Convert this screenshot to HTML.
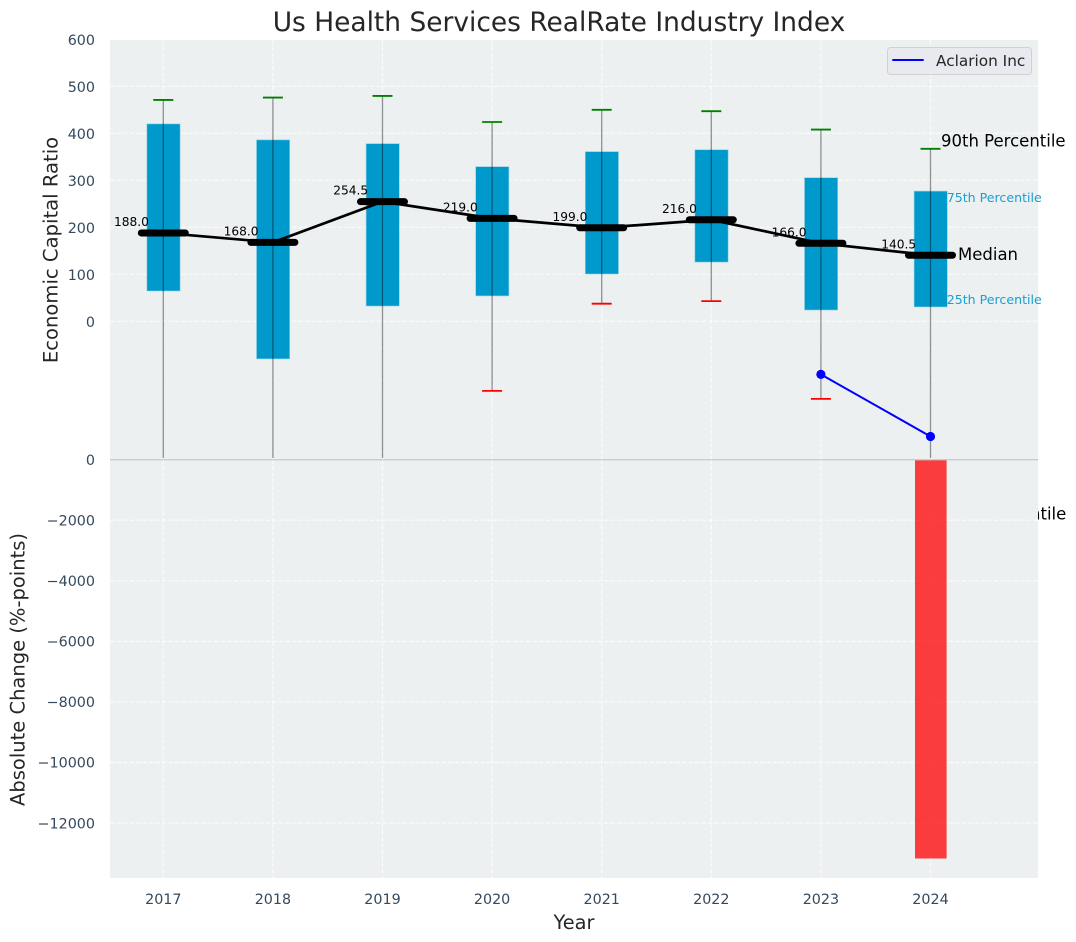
<!DOCTYPE html>
<html lang="en">
<head>
<meta charset="utf-8">
<title>Us Health Services RealRate Industry Index</title>
<style>
html,body{margin:0;padding:0;background:#fff}
svg{display:block;font-family:"DejaVu Sans","Liberation Sans",sans-serif}
</style>
</head>
<body>
<svg id="chart" xmlns="http://www.w3.org/2000/svg" width="1076" height="942" viewBox="0 0 1076 942">
  <defs>
    <clipPath id="top-clip"><rect x="110" y="40" width="928" height="419.5"/></clipPath>
    <clipPath id="bottom-clip"><rect x="110" y="459.5" width="928" height="418.5"/></clipPath>
  </defs>
  <text x="559" y="31" font-size="26.45" fill="#262626" text-anchor="middle">Us Health Services RealRate Industry Index</text>
  <rect x="110" y="40" width="928" height="419.5" fill="#ecf0f1"/>
  <g id="top-grid"></g>
  <g id="top-marks" clip-path="url(#top-clip)"></g>
  <g id="top-notes"></g>
  <rect x="110" y="459.5" width="928" height="418.5" fill="#ecf0f1"/>
  <g id="bottom-grid"></g>
  <g id="bottom-marks" clip-path="url(#bottom-clip)"></g>
  <line x1="110" x2="1038" y1="459.7" y2="459.7" stroke="#cbcbcb" stroke-width="1.4"/>
  <g id="tick-labels"></g>
  <text transform="translate(51 250) rotate(-90)" font-size="19.6" fill="#262626" text-anchor="middle" dominant-baseline="central">Economic Capital Ratio</text>
  <text transform="translate(18 669.5) rotate(-90)" font-size="19.5" fill="#262626" text-anchor="middle" dominant-baseline="central">Absolute Change (%-points)</text>
  <text x="574" y="929" font-size="19.4" fill="#262626" text-anchor="middle">Year</text>
  <g>
    <rect x="887.5" y="47.5" width="144" height="27" rx="3" fill="#e8eaf0" stroke="#cfd1d4" stroke-width="1"/>
    <line x1="892.3" x2="923.7" y1="60" y2="60" stroke="#0000ff" stroke-width="2"/>
    <text x="936" y="61" font-size="15.3" fill="#262626" dominant-baseline="central">Aclarion Inc</text>
  </g>
</svg>
<script>
const years = [2017, 2018, 2019, 2020, 2021, 2022, 2023, 2024];
const p90 = [471, 476, 479.5, 424, 450, 447, 408, 367];
const p75 = [420, 386, 378, 329, 361, 365, 305.5, 277];
const median = [188, 168, 254.5, 219, 199, 216, 166, 140.5];
const p25 = [64.5, -80, 32.5, 54, 100.6, 126, 24, 30.5];
const p10 = [-520, -640, -480, -148, 37.5, 43, -165, -409];
const companyYears = [2023, 2024];
const companyValues = [-113, -245];
const changeYears = [2024];
const changeValues = [-13170];
const topTicks = [0, 100, 200, 300, 400, 500, 600];
const bottomTicks = [0, -2000, -4000, -6000, -8000, -10000, -12000];

const NS = 'http://www.w3.org/2000/svg';
const xPos = year => 163.3 + (year - 2017) * 109.6;
const yTop = value => 321.3 - value * 0.47;
const yBottom = value => 459.7 - value * 0.03028;

function make(tag, parent, attrs, content) {
  const node = document.createElementNS(NS, tag);
  Object.keys(attrs).forEach(key => node.setAttribute(key, attrs[key]));
  if (content !== undefined) node.textContent = content;
  parent.appendChild(node);
  return node;
}

const topGrid = document.getElementById('top-grid');
const topMarks = document.getElementById('top-marks');
const topNotes = document.getElementById('top-notes');
const bottomGrid = document.getElementById('bottom-grid');
const bottomMarks = document.getElementById('bottom-marks');
const tickLabels = document.getElementById('tick-labels');
const gridStyle = {stroke: '#ffffff', 'stroke-width': 1.2, 'stroke-dasharray': '4.5 2', 'stroke-opacity': 0.75};

topTicks.forEach(t => {
  const g = make('line', topGrid, Object.assign({x1: 110, x2: 1038, y1: yTop(t), y2: yTop(t)}, gridStyle));
  
  
  const l = make('text', tickLabels, {x: 95, y: yTop(t) + 1.5, 'font-size': 14.3, fill: '#34495e', 'text-anchor': 'end', 'dominant-baseline': 'central'}, String(t));
  
  
});

bottomTicks.forEach(t => {
  const g = make('line', bottomGrid, Object.assign({x1: 110, x2: 1038, y1: yBottom(t), y2: yBottom(t)}, gridStyle));
  
  
  const l = make('text', tickLabels, {x: 95, y: yBottom(t) + 1.2, 'font-size': 14.3, fill: '#34495e', 'text-anchor': 'end', 'dominant-baseline': 'central'}, String(t).replace('-', '\u2212'));
  
  
});

years.forEach(year => {
  const x = xPos(year);
  const a = make('line', topGrid, Object.assign({x1: x, x2: x, y1: 40, y2: 459.5}, gridStyle));
  
  
  const b = make('line', bottomGrid, Object.assign({x1: x, x2: x, y1: 459.5, y2: 878}, gridStyle));
  
  
  const l = make('text', tickLabels, {x: x, y: 904, 'font-size': 14.3, fill: '#34495e', 'text-anchor': 'middle'}, String(year));
  
  
});

years.forEach((year, i) => {
  const x = xPos(year);
  const box = make('rect', topMarks, {x: x - 16.4, width: 33.2, y: yTop(p75[i]), height: yTop(p25[i]) - yTop(p75[i]), fill: '#0099cc', stroke: '#8fd0e6', 'stroke-width': 0.6});
  
  
  const whisker = make('line', topMarks, {x1: x, x2: x, y1: yTop(p90[i]), y2: Math.min(yTop(p10[i]), 458), stroke: '#000000', 'stroke-opacity': 0.42, 'stroke-width': 1.3});
  
  
  const capHigh = make('line', topMarks, {x1: x - 10, x2: x + 10, y1: yTop(p90[i]), y2: yTop(p90[i]), stroke: '#008000', 'stroke-width': 1.8});
  
  
  const capLow = make('line', topMarks, {x1: x - 10, x2: x + 10, y1: yTop(p10[i]), y2: yTop(p10[i]), stroke: '#ff0000', 'stroke-width': 1.8});
  
  
});

const medianLine = make('polyline', topMarks, {points: years.map((year, i) => xPos(year) + ',' + yTop(median[i])).join(' '), fill: 'none', stroke: '#000000', 'stroke-width': 2.7});



years.forEach((year, i) => {
  const x = xPos(year);
  const y = yTop(median[i]);
  const bar = make('line', topMarks, {x1: x - 22, x2: x + 22, y1: y, y2: y, stroke: '#000000', 'stroke-width': 7, 'stroke-linecap': 'round'});
  
  
  const label = make('text', topMarks, {x: x - 31.8, y: y - 11, 'font-size': 12.2, fill: '#000000', 'text-anchor': 'middle', 'dominant-baseline': 'central'}, median[i].toFixed(1));
  
  
});

const companyLine = make('polyline', topMarks, {points: companyYears.map((year, i) => xPos(year) + ',' + yTop(companyValues[i])).join(' '), fill: 'none', stroke: '#0000ff', 'stroke-width': 2});



companyYears.forEach((year, i) => {
  const dot = make('circle', topMarks, {cx: xPos(year), cy: yTop(companyValues[i]), r: 4.6, fill: '#0000ff'});
  
  
});

changeYears.forEach((year, i) => {
  const top = Math.min(yBottom(0), yBottom(changeValues[i]));
  const bar = make('rect', bottomMarks, {x: xPos(year) - 15.5, width: 31.6, y: top, height: Math.abs(yBottom(changeValues[i]) - yBottom(0)), fill: '#ff0000', 'fill-opacity': 0.75});
  
  
});

const last = years.length - 1;
const noteX = xPos(years[last]);

const note90 = make('text', topNotes, {x: noteX + 10.5, y: yTop(p90[last]) - 8, 'font-size': 16.5, fill: '#000000', 'dominant-baseline': 'central'}, '90th Percentile');



const note75 = make('text', topNotes, {x: noteX + 16.2, y: yTop(p75[last]) + 6.5, 'font-size': 12.6, fill: '#1a9fcf', 'dominant-baseline': 'central'}, '75th Percentile');



const noteMedian = make('text', topNotes, {x: noteX + 27.5, y: yTop(median[last]) - 1, 'font-size': 16.5, fill: '#000000', 'dominant-baseline': 'central'}, 'Median');



const note25 = make('text', topNotes, {x: noteX + 16.2, y: yTop(p25[last]) - 7.5, 'font-size': 12.6, fill: '#1a9fcf', 'dominant-baseline': 'central'}, '25th Percentile');



const note10 = make('text', topNotes, {x: noteX + 11.2, y: yTop(p10[last]) + 0.5, 'font-size': 16.5, fill: '#000000', 'dominant-baseline': 'central'}, '10th Percentile');


</script>
</body>
</html>
